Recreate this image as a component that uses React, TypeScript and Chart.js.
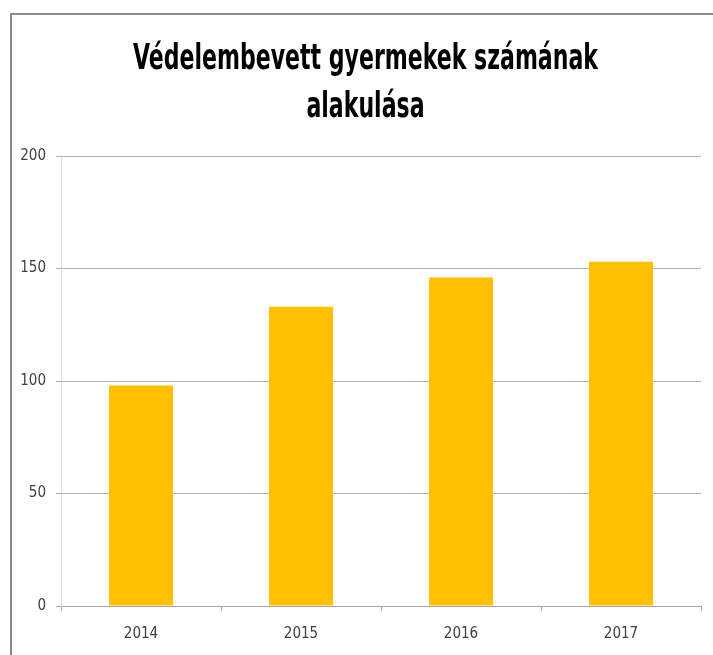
import React, { useEffect, useRef } from "react";
import { Chart, registerables } from "chart.js";

Chart.register(...registerables);

const categories = ["2014", "2015", "2016", "2017"];
const values = [98, 133, 146, 153];
const titleLines = ["Védelembevett gyermekek számának", "alakulása"];
const yTicks = [0, 50, 100, 150, 200];

const FONT = '"Liberation Sans Narrow", "Arial Narrow", "DejaVu Sans Condensed", sans-serif';

const titlePlugin = {
  id: "stretchedTitle",
  afterDraw(chart: any) {
    const ctx = chart.ctx as CanvasRenderingContext2D;
    ctx.save();
    ctx.font = `bold 36px ${FONT}`;
    ctx.fillStyle = "#000000";
    ctx.textAlign = "center";
    ctx.textBaseline = "alphabetic";
    const w = ctx.measureText(titleLines[0]).width;
    const sx = 465 / w;
    const cx = 365.5;
    const baselines = [69, 117];
    titleLines.forEach((line, i) => {
      ctx.setTransform(sx, 0, 0, 1, cx, baselines[i]);
      ctx.fillText(line, 0, 0);
    });
    ctx.restore();
  },
};

export default function App() {
  const ref = useRef<HTMLCanvasElement | null>(null);

  useEffect(() => {
    if (!ref.current) return;
    const chart = new Chart(ref.current, {
      type: "bar",
      data: {
        labels: categories,
        datasets: [
          {
            data: values,
            backgroundColor: "#FFC000",
            borderWidth: 0,
            barPercentage: 0.4,
            categoryPercentage: 1,
          },
        ],
      },
      options: {
        responsive: false,
        animation: false,
        layout: { padding: { left: 0, right: 12, top: 156, bottom: 0 } },
        plugins: {
          legend: { display: false },
          tooltip: { enabled: false },
          title: { display: false },
        },
        scales: {
          x: {
            grid: {
              offset: true,
              drawOnChartArea: false,
              drawTicks: true,
              tickLength: 5,
              color: "#a6a6a6",
            },
            border: { display: true, color: "#a6a6a6", width: 1 },
            ticks: {
              color: "#404040",
              font: { family: FONT, size: 15 },
              padding: 14,
            },
            afterFit: (s: any) => {
              s.height = 49;
            },
          },
          y: {
            min: 0,
            max: 200,
            afterBuildTicks: (s: any) => {
              s.ticks = yTicks.map((v) => ({ value: v }));
            },
            grid: {
              color: "#b0b0b0",
              drawTicks: true,
              tickLength: 5,
            },
            border: { display: true, color: "#d9d9d9", width: 1 },
            ticks: {
              color: "#404040",
              font: { family: FONT, size: 15 },
              padding: 10,
            },
            afterFit: (s: any) => {
              s.width = 61;
            },
          },
        },
      },
      plugins: [titlePlugin],
    });
    return () => chart.destroy();
  }, []);

  return (
    <div style={{ position: "absolute", left: 0, top: 0, width: 713, height: 655, background: "#ffffff" }}>
      <canvas ref={ref} width={713} height={655} style={{ position: "absolute", left: 0, top: 0 }} />
      <div
        style={{
          position: "absolute",
          left: 10,
          top: 13,
          right: 0,
          bottom: 0,
          borderTop: "2px solid #8a8a8a",
          borderLeft: "2px solid #8a8a8a",
          pointerEvents: "none",
        }}
      />
    </div>
  );
}
